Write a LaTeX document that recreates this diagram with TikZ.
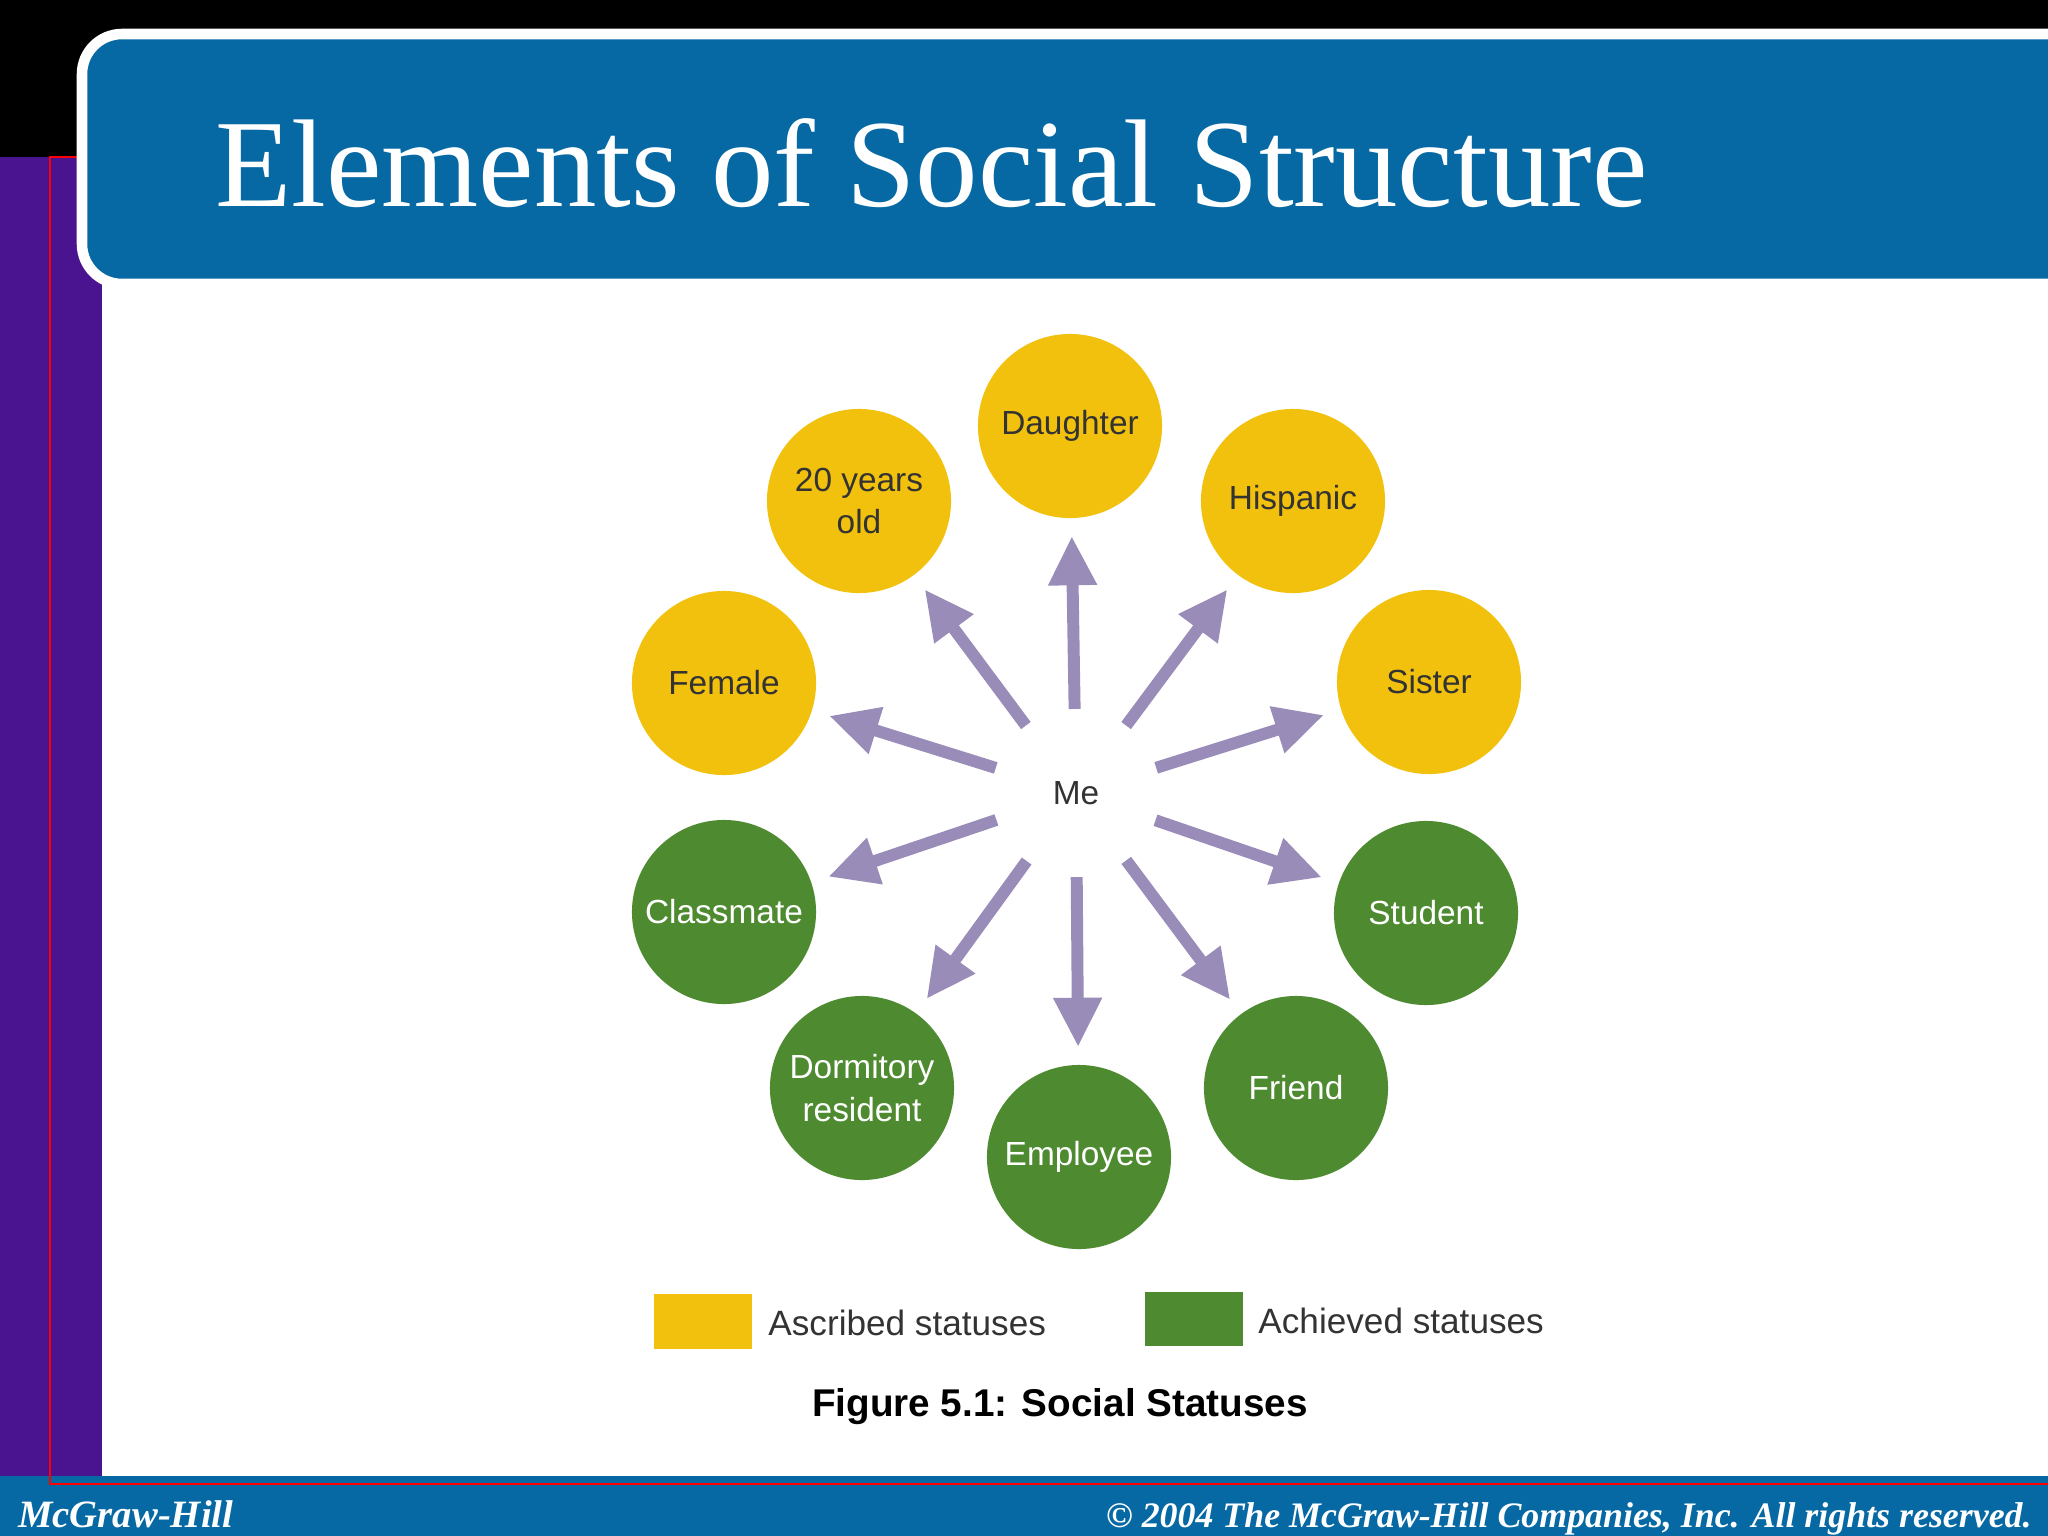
\documentclass[tikz,border=0pt]{standalone}
\usepackage{fontspec}
\setmainfont{Liberation Serif}
\setsansfont{Liberation Sans}
\usetikzlibrary{arrows.meta}
\definecolor{banner}{HTML}{0669A3}
\definecolor{ylw}{HTML}{F2C10E}
\definecolor{grn}{HTML}{4E8A30}
\definecolor{lav}{HTML}{9A8CB8}
\definecolor{purp}{HTML}{4A1490}
\begin{document}
\begin{tikzpicture}[x=0.01cm,y=-0.01cm,
  asc/.style={circle,fill=ylw,minimum size=1.84cm,inner sep=0pt,align=center,font=\sffamily\fontsize{9.5}{12}\selectfont,text=black!80},
  ach/.style={circle,fill=grn,minimum size=1.84cm,inner sep=0pt,align=center,font=\sffamily\fontsize{9.5}{12}\selectfont,text=white},
  arr/.style={draw=lav,line width=3.4pt,-{Triangle[length=14pt,width=13pt]},shorten <=0.84cm,shorten >=1.1cm}]
\useasboundingbox (0,0) rectangle (2048,1536);
\fill[black] (0,0) rectangle (2048,1536);
\fill[purp] (0,157) rectangle (102,1476);
\fill[white] (102,157) rectangle (2048,1476);
\draw[red,line width=0.8pt] (50,1476) -- (50,157) -- (102,157);
\fill[banner] (0,1476) rectangle (2048,1536);
\draw[red,line width=0.8pt] (50,1476) -- (50,1484) -- (2048,1484);
\draw[white,line width=3pt,fill=banner,rounded corners=0.4cm] (2100,34) -- (82,34) -- (82,284) -- (2100,284);
\node[anchor=west,text=white,font=\fontsize{35.5}{42}\selectfont] (title) at (203,163) {Elements of Social Structure};
\node[anchor=base west,text=white,font=\fontsize{11}{13}\selectfont\bfseries\itshape] (mh) at (6,1527) {McGraw-Hill};
\node[anchor=base east,text=white,font=\fontsize{10.2}{12}\selectfont\bfseries\itshape] (cp) at (2044,1527) {© 2004 The McGraw-Hill Companies, Inc. All rights reserved.};
\node[font=\sffamily\fontsize{9.5}{12}\selectfont,text=black!80] (me) at (1076,793) {Me};
\node[asc] (d) at (1070,426) {Daughter};
\node[asc] (h) at (1293,501) {Hispanic};
\node[asc] (s) at (1429,682) {Sister};
\node[ach] (st) at (1426,913) {Student};
\node[ach] (fr) at (1296,1088) {Friend};
\node[ach] (em) at (1079,1157) {Employee};
\node[ach] (do) at (862,1088) {Dormitory\\resident};
\node[ach] (cl) at (724,912) {Classmate};
\node[asc] (fe) at (724,683) {Female};
\node[asc] (tw) at (859,501) {20 years\\old};
\foreach \t in {d,h,s,st,fr,em,do,cl,fe,tw}{\draw[arr] (me.center) -- (\t.center);}
\fill[ylw] (654,1294) rectangle (752,1349);
\node[anchor=west,font=\sffamily\fontsize{10}{12}\selectfont,text=black!80] (la) at (756,1323) {Ascribed statuses};
\fill[grn] (1145,1292) rectangle (1243,1346);
\node[anchor=west,font=\sffamily\fontsize{10}{12}\selectfont,text=black!80] (lb) at (1246,1321) {Achieved statuses};
\node[font=\sffamily\bfseries\fontsize{11}{13}\selectfont] (cap) at (1060,1407) {Figure 5.1: Social Statuses};
\end{tikzpicture}
\end{document}
